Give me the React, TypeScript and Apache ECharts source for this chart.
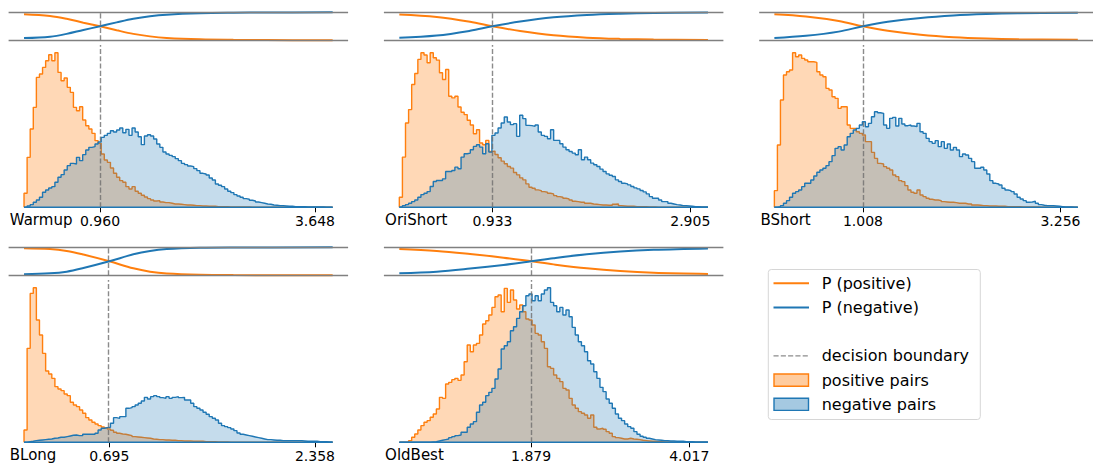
import React, { useEffect, useRef } from "react";
import * as echarts from "echarts";

const ORANGE = "#ff7f0e";
const BLUE = "#1f77b4";
const FONT = "DejaVu Sans";

// ---------- data ----------
const panelNames = ["Warmup", "OriShort", "BShort", "BLong", "OldBest"];
const boundaries = [0.96, 0.933, 1.008, 0.695, 1.879];
const upperTicks = [3.648, 2.905, 3.256, 2.358, 4.017];
const histMin = [0.01, 0.005, 0.0, 0.005, 0.097];
const histMax = [3.869, 3.081, 3.454, 2.501, 4.27];

const warmupPositive = [
  42, 150, 235, 300, 390, 400, 420, 440, 458, 440,
  464, 405, 380, 388, 360, 345, 300, 290, 302, 262,
  245, 235, 222, 200, 192, 160, 142, 135, 118, 102,
  90, 80, 75, 62, 55, 62, 48, 42, 36, 31,
  26, 22, 19, 20, 16, 14, 14, 12, 10, 10,
  9, 8, 7, 7, 6, 5, 5, 4, 4, 3,
  3, 3, 2, 2, 2, 2, 1, 1, 1, 1,
  1, 1, 1, 0, 0, 0, 0, 0, 0, 0,
  0, 0, 0, 0, 0, 0, 0, 0, 0, 0,
  0, 0, 0, 0, 0, 0, 0, 0, 0, 0,
];
const warmupNegative = [
  1, 4, 8, 15, 22, 30, 45, 52, 58, 62,
  75, 90, 98, 112, 125, 132, 130, 150, 140, 158,
  172, 180, 182, 190, 196, 210, 216, 222, 230, 226,
  232, 238, 224, 234, 216, 238, 226, 212, 188, 214,
  218, 214, 205, 190, 180, 166, 160, 156, 152, 146,
  140, 132, 128, 124, 122, 116, 110, 102, 100, 97,
  88, 82, 70, 66, 62, 55, 48, 44, 38, 34,
  30, 26, 24, 21, 19, 16, 14, 12, 10, 9,
  7, 6, 5, 5, 4, 3, 3, 2, 2, 2,
  2, 1, 1, 1, 1, 1, 1, 0, 0, 0,
];
const oriShortPositive = [
  30, 150, 252, 292, 367, 400, 442, 462, 455, 432,
  462, 447, 440, 402, 382, 412, 332, 327, 332, 300,
  284, 277, 260, 246, 220, 232, 192, 187, 200, 167,
  168, 158, 148, 138, 130, 122, 117, 104, 97, 88,
  82, 70, 60, 57, 52, 50, 47, 45, 42, 40,
  35, 32, 30, 27, 25, 22, 18, 17, 15, 15,
  12, 12, 10, 9, 8, 7, 7, 6, 6, 9,
  10, 5, 4, 3, 3, 3, 2, 2, 2, 2,
  1, 1, 1, 0, 0, 0, 0, 0, 0, 0,
  0, 0, 0, 0, 0, 0, 0, 0, 0, 0,
];
const oriShortNegative = [
  2, 5, 8, 12, 17, 22, 30, 38, 42, 47,
  62, 77, 80, 80, 85, 107, 107, 110, 120, 115,
  150, 160, 162, 172, 182, 187, 180, 160, 190, 165,
  215, 222, 237, 252, 270, 255, 247, 250, 212, 275,
  265, 245, 244, 242, 246, 225, 215, 212, 205, 232,
  200, 200, 190, 180, 172, 167, 162, 157, 172, 142,
  150, 142, 132, 127, 122, 114, 107, 100, 96, 92,
  82, 77, 72, 70, 67, 62, 58, 55, 50, 46,
  40, 32, 27, 27, 22, 17, 17, 12, 10, 8,
  7, 5, 5, 4, 3, 2, 2, 1, 1, 1,
];
const bShortPositive = [
  50, 187, 322, 397, 407, 412, 464, 452, 457, 447,
  442, 437, 437, 435, 407, 397, 392, 357, 352, 332,
  327, 297, 302, 302, 247, 237, 237, 227, 222, 217,
  197, 197, 165, 147, 132, 130, 122, 117, 112, 97,
  92, 80, 77, 65, 52, 45, 42, 52, 37, 32,
  27, 24, 22, 22, 20, 17, 16, 15, 15, 14,
  12, 12, 12, 10, 10, 7, 7, 6, 5, 5,
  4, 4, 4, 3, 3, 3, 2, 2, 2, 2,
  2, 1, 1, 1, 1, 1, 1, 0, 0, 0,
  0, 0, 0, 0, 0, 0, 0, 0, 0, 0,
];
const bShortNegative = [
  0, 2, 5, 12, 20, 30, 42, 47, 52, 62,
  72, 72, 82, 94, 105, 112, 117, 125, 137, 155,
  177, 182, 172, 187, 212, 222, 232, 237, 247, 257,
  242, 252, 272, 287, 284, 282, 247, 237, 267, 270,
  244, 267, 250, 245, 247, 244, 242, 252, 227, 222,
  207, 197, 192, 200, 182, 197, 177, 190, 172, 180,
  172, 152, 160, 157, 147, 137, 117, 117, 120, 112,
  100, 80, 72, 70, 67, 57, 52, 50, 47, 40,
  30, 25, 20, 15, 16, 18, 12, 8, 6, 5,
  5, 5, 4, 3, 2, 1, 1, 1, 0, 0,
];
const bLongPositive = [
  37, 282, 447, 464, 367, 322, 267, 214, 205, 192,
  167, 160, 155, 145, 140, 120, 112, 107, 97, 87,
  74, 67, 60, 55, 50, 46, 43, 40, 36, 30,
  27, 25, 24, 22, 20, 17, 16, 15, 14, 13,
  12, 10, 9, 8, 8, 7, 7, 6, 6, 5,
  5, 4, 4, 4, 3, 3, 3, 3, 2, 2,
  2, 2, 1, 1, 1, 1, 0, 0, 0, 0,
  0, 0, 0, 0, 0, 0, 0, 0, 0, 0,
  0, 0, 0, 0, 0, 0, 0, 0, 0, 0,
  0, 0, 0, 0, 0, 0, 0, 0, 0, 0,
];
const bLongNegative = [
  0, 2, 3, 5, 6, 7, 8, 9, 10, 12,
  13, 15, 15, 17, 19, 21, 22, 20, 20, 24,
  24, 24, 24, 27, 37, 42, 44, 45, 57, 74,
  72, 77, 77, 102, 104, 107, 112, 117, 124, 135,
  130, 137, 140, 137, 134, 132, 137, 132, 135, 137,
  134, 135, 127, 127, 117, 107, 102, 97, 90, 84,
  77, 72, 67, 57, 50, 47, 44, 40, 35, 28,
  24, 22, 20, 18, 16, 14, 12, 10, 8, 8,
  7, 6, 6, 5, 5, 5, 5, 5, 5, 5,
  4, 3, 3, 3, 3, 2, 2, 2, 1, 1,
];
const oldBestPositive = [
  0, 0, 1, 5, 15, 25, 37, 50, 60, 65,
  75, 85, 100, 135, 132, 175, 180, 188, 192, 186,
  202, 242, 292, 272, 292, 297, 322, 355, 365, 382,
  405, 437, 442, 392, 462, 420, 457, 427, 400, 412,
  392, 370, 367, 352, 327, 322, 302, 282, 227, 222,
  202, 192, 182, 162, 157, 132, 112, 102, 92, 87,
  82, 72, 82, 45, 40, 42, 39, 32, 27, 17,
  14, 12, 10, 10, 12, 10, 9, 8, 6, 5,
  4, 3, 3, 2, 2, 1, 1, 1, 0, 0,
  0, 0, 0, 0, 0, 0, 0, 0, 0, 0,
];
const oldBestNegative = [
  0, 0, 0, 0, 0, 0, 0, 0, 0, 0,
  1, 2, 4, 6, 8, 10, 14, 17, 20, 22,
  30, 30, 45, 55, 62, 90, 112, 120, 140, 150,
  162, 190, 220, 280, 290, 302, 335, 347, 372, 392,
  410, 440, 445, 425, 440, 425, 445, 457, 464, 420,
  410, 392, 405, 382, 397, 377, 345, 322, 302, 290,
  272, 245, 235, 212, 192, 165, 152, 130, 117, 102,
  85, 72, 65, 55, 47, 42, 32, 24, 18, 15,
  12, 10, 8, 7, 6, 5, 5, 4, 4, 3,
  3, 3, 2, 2, 2, 1, 1, 1, 1, 1,
];

// P(positive) / P(negative) curves read at sample distances
const warmupProbX = [0.01, 0.335, 0.543, 0.752, 0.96, 1.168, 1.377, 1.585, 1.793, 2.21, 2.627, 3.044, 3.869];
const warmupProbPos = [0.93, 0.87, 0.77, 0.63, 0.5, 0.36, 0.23, 0.14, 0.085, 0.035, 0.016, 0.008, 0.001];
const warmupProbNeg = [0.08, 0.13, 0.23, 0.37, 0.5, 0.64, 0.77, 0.86, 0.915, 0.965, 0.984, 0.992, 0.999];
const oriShortProbX = [0.005, 0.378, 0.71, 0.933, 1.209, 1.542, 1.874, 2.207, 2.539, 3.081];
const oriShortProbPos = [0.92, 0.83, 0.66, 0.5, 0.33, 0.18, 0.095, 0.05, 0.025, 0.01];
const oriShortProbNeg = [0.09, 0.17, 0.34, 0.5, 0.67, 0.82, 0.905, 0.95, 0.975, 0.99];
const bShortProbX = [0.0, 0.359, 0.732, 1.008, 1.291, 1.664, 2.037, 2.41, 2.783, 3.454];
const bShortProbPos = [0.93, 0.85, 0.69, 0.5, 0.34, 0.2, 0.11, 0.06, 0.035, 0.02];
const bShortProbNeg = [0.08, 0.16, 0.31, 0.5, 0.66, 0.8, 0.89, 0.94, 0.965, 0.98];
const bLongProbX = [0.005, 0.215, 0.35, 0.485, 0.695, 0.889, 1.024, 1.159, 1.428, 1.698, 2.501];
const bLongProbPos = [0.97, 0.94, 0.87, 0.74, 0.5, 0.25, 0.13, 0.065, 0.02, 0.008, 0.0];
const bLongProbNeg = [0.04, 0.07, 0.13, 0.26, 0.5, 0.75, 0.87, 0.935, 0.98, 0.992, 1.0];
const oldBestProbX = [0.097, 0.603, 1.054, 1.505, 1.879, 2.181, 2.632, 3.083, 3.534, 4.27];
const oldBestProbPos = [0.94, 0.87, 0.76, 0.63, 0.5, 0.39, 0.25, 0.15, 0.09, 0.05];
const oldBestProbNeg = [0.07, 0.13, 0.24, 0.37, 0.5, 0.61, 0.75, 0.85, 0.91, 0.96];

const positives = [warmupPositive, oriShortPositive, bShortPositive, bLongPositive, oldBestPositive];
const negatives = [warmupNegative, oriShortNegative, bShortNegative, bLongNegative, oldBestNegative];
const probXs = [warmupProbX, oriShortProbX, bShortProbX, bLongProbX, oldBestProbX];
const probPos = [warmupProbPos, oriShortProbPos, bShortProbPos, bLongProbPos, oldBestProbPos];
const probNeg = [warmupProbNeg, oriShortProbNeg, bShortProbNeg, bLongProbNeg, oldBestProbNeg];

const legendLabels = ["P (positive)", "P (negative)", "", "decision boundary", "positive pairs", "negative pairs"];
const legendKinds = ["line", "line", "none", "dash", "patch", "patch"];

// ---------- layout ----------
const COL_LEFT = [8.6, 383.9, 759.2];
const AX_W = 339.5;
const ROW_STRIP_TOP = [12.3, 247.3];
const STRIP_H = 28;
const ROW_HIST_TOP = [45, 280];
const HIST_H = 162.3;

function stairs(counts: number[], lo: number, hi: number) {
  const n = counts.length;
  const w = (hi - lo) / n;
  const pts: number[][] = [[lo, 0]];
  for (let i = 0; i < n; i++) {
    pts.push([lo + i * w, counts[i]]);
    pts.push([lo + (i + 1) * w, counts[i]]);
  }
  pts.push([hi, 0]);
  return pts;
}

function buildOption() {
  const grid: any[] = [];
  const xAxis: any[] = [];
  const yAxis: any[] = [];
  const series: any[] = [];
  const title: any[] = [];
  const dashStyle = { color: "rgba(110,110,110,0.8)", width: 1.4, type: [5.1, 2.2] };

  panelNames.forEach((name, k) => {
    const col = k % 3;
    const row = Math.floor(k / 3);
    const lo = histMin[k];
    const hi = histMax[k];
    const pad = 0.05 * (hi - lo);
    const left = COL_LEFT[col];
    const si = 2 * k;
    const hiIdx = 2 * k + 1;
    grid.push({ left, top: ROW_STRIP_TOP[row], width: AX_W, height: STRIP_H, containLabel: false });
    grid.push({ left, top: ROW_HIST_TOP[row], width: AX_W, height: HIST_H, containLabel: false });
    xAxis.push({ type: "value", gridIndex: si, min: lo - pad, max: hi + pad, show: false });
    yAxis.push({ type: "value", gridIndex: si, min: 0, max: 1, show: false });
    const ticks = [boundaries[k], upperTicks[k]];
    xAxis.push({
      type: "value",
      gridIndex: hiIdx,
      min: lo - pad,
      max: hi + pad,
      axisLine: { show: false },
      splitLine: { show: false },
      axisTick: { show: true, customValues: ticks, length: 5, lineStyle: { color: "#000", width: 1 } },
      axisLabel: {
        customValues: ticks,
        formatter: (v: number) => v.toFixed(3),
        fontFamily: FONT,
        fontSize: 14,
        color: "#000",
        margin: 7,
      },
    });
    const maxCount = Math.max(...positives[k], ...negatives[k]);
    yAxis.push({ type: "value", gridIndex: hiIdx, min: 0, max: maxCount * 1.05, show: false });

    // strip frame + boundary
    series.push({
      type: "line",
      xAxisIndex: si,
      yAxisIndex: si,
      data: [[lo, 0.5]],
      symbol: "none",
      lineStyle: { opacity: 0 },
      silent: true,
      z: 1,
      markLine: {
        silent: true,
        symbol: ["none", "none"],
        label: { show: false },
        data: [
          { yAxis: 0, lineStyle: { color: "#808080", width: 1.4, type: "solid" } },
          { yAxis: 1, lineStyle: { color: "#808080", width: 1.4, type: "solid" } },
          { xAxis: boundaries[k], lineStyle: dashStyle },
        ],
      },
    });
    series.push({
      type: "line",
      xAxisIndex: si,
      yAxisIndex: si,
      data: probXs[k].map((x, i) => [x, probPos[k][i]]),
      smooth: 0.35,
      symbol: "none",
      lineStyle: { color: ORANGE, width: 2 },
      silent: true,
      clip: false,
      z: 2,
    });
    series.push({
      type: "line",
      xAxisIndex: si,
      yAxisIndex: si,
      data: probXs[k].map((x, i) => [x, probNeg[k][i]]),
      smooth: 0.35,
      symbol: "none",
      lineStyle: { color: BLUE, width: 2 },
      silent: true,
      clip: false,
      z: 3,
    });

    // histograms
    series.push({
      type: "line",
      xAxisIndex: hiIdx,
      yAxisIndex: hiIdx,
      data: stairs(positives[k], lo, hi),
      symbol: "none",
      lineStyle: { color: ORANGE, width: 1.4 },
      areaStyle: { color: "rgba(255,127,14,0.3)", opacity: 1 },
      silent: true,
      clip: false,
      z: 2,
    });
    series.push({
      type: "line",
      xAxisIndex: hiIdx,
      yAxisIndex: hiIdx,
      data: stairs(negatives[k], lo, hi),
      symbol: "none",
      lineStyle: { color: BLUE, width: 1.4 },
      areaStyle: { color: "rgba(31,119,180,0.26)", opacity: 1 },
      silent: true,
      clip: false,
      z: 3,
    });
    series.push({
      type: "line",
      xAxisIndex: hiIdx,
      yAxisIndex: hiIdx,
      data: [[lo, 0], [hi, 0]],
      symbol: "none",
      lineStyle: { color: BLUE, width: 1.4 },
      silent: true,
      clip: false,
      z: 4,
      markLine: {
        silent: true,
        symbol: ["none", "none"],
        label: { show: false },
        lineStyle: dashStyle,
        data: [{ xAxis: boundaries[k] }],
      },
    });

    title.push({
      text: name,
      left: left + 1.2,
      top: ROW_HIST_TOP[row] + HIST_H + 5,
      padding: 0,
      textStyle: { fontFamily: FONT, fontSize: 15, fontWeight: "normal", color: "#000" },
    });
  });

  // legend drawn with graphic elements
  const lx = 768.3;
  const ly = 269.5;
  const rowY0 = 283.3;
  const rowGap = 24.2;
  const handleX1 = 773.5;
  const handleX2 = 809;
  const textX = 821.7;
  const children: any[] = [
    {
      type: "rect",
      shape: { x: lx, y: ly, width: 212, height: 150, r: 3 },
      style: { fill: "#fff", stroke: "#d6d6d6", lineWidth: 1 },
    },
  ];
  const colorsFor = [ORANGE, BLUE, "", "rgba(110,110,110,0.8)", ORANGE, BLUE];
  const fillsFor = ["", "", "", "", "rgba(255,127,14,0.4)", "rgba(31,119,180,0.4)"];
  legendLabels.forEach((label, i) => {
    const y = rowY0 + i * rowGap;
    const kind = legendKinds[i];
    if (kind === "line") {
      children.push({ type: "line", shape: { x1: handleX1, y1: y, x2: handleX2, y2: y }, style: { stroke: colorsFor[i], lineWidth: 2 } });
    } else if (kind === "dash") {
      children.push({ type: "line", shape: { x1: handleX1, y1: y, x2: handleX2, y2: y }, style: { stroke: colorsFor[i], lineWidth: 1.4, lineDash: [5.1, 2.2] } });
    } else if (kind === "patch") {
      children.push({
        type: "rect",
        shape: { x: handleX1 + 0.5, y: y - 6.1, width: handleX2 - handleX1 - 1, height: 12.2 },
        style: { fill: fillsFor[i], stroke: colorsFor[i], lineWidth: 1.4 },
      });
    }
    if (label) {
      children.push({
        type: "text",
        x: textX,
        y,
        style: { text: label, fill: "#000", font: `16px "${FONT}"`, verticalAlign: "middle", align: "left" },
      });
    }
  });

  return {
    animation: false,
    backgroundColor: "#fff",
    grid,
    xAxis,
    yAxis,
    series,
    title,
    graphic: [{ type: "group", silent: true, children }],
  };
}

export default function App() {
  const ref = useRef<HTMLDivElement>(null);
  useEffect(() => {
    if (!ref.current) return;
    const chart = echarts.init(ref.current, null, { renderer: "svg" });
    chart.setOption(buildOption() as any);
    return () => chart.dispose();
  }, []);
  return (
    <div
      ref={ref}
      style={{ position: "fixed", left: 0, top: 0, width: 1093, height: 468, background: "#fff" }}
    />
  );
}
